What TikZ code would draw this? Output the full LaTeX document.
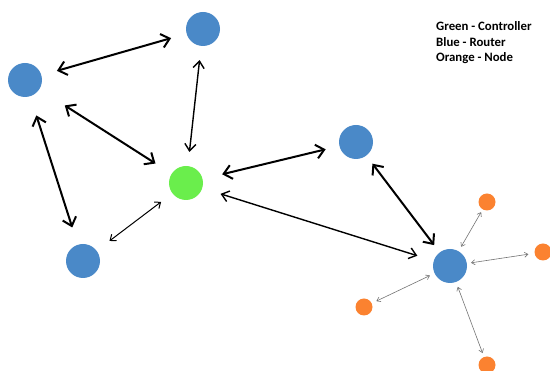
\documentclass[tikz,border=0pt]{standalone}
\usepackage{fontspec}
\setmainfont{Carlito}
\usetikzlibrary{arrows.meta}
\definecolor{router}{HTML}{4A89C8}
\definecolor{ctrl}{HTML}{6AEE4C}
\definecolor{leaf}{HTML}{FB8230}
\tikzset{
  dot/.style={circle, inner sep=0pt, draw=none},
  routerdot/.style={dot, fill=router, minimum size=34pt},
  ctrldot/.style={dot, fill=ctrl, minimum size=34pt},
  leafdot/.style={dot, fill=leaf, minimum size=17pt},
  heavy/.style={line width=2pt, {Straight Barb[length=8pt,width=14pt]}-{Straight Barb[length=8pt,width=14pt]}},
  medium/.style={line width=1.4pt, {Straight Barb[length=7pt,width=11pt]}-{Straight Barb[length=7pt,width=11pt]}},
  light/.style={line width=1pt, {Straight Barb[length=5pt,width=8pt]}-{Straight Barb[length=5pt,width=8pt]}},
  faint/.style={line width=0.6pt, draw=black!55, {Straight Barb[length=3.5pt,width=5pt]}-{Straight Barb[length=3.5pt,width=5pt]}},
  legendline/.style={anchor=base west, inner sep=0pt, font=\bfseries\fontsize{12.8}{15.5}\selectfont},
}
\begin{document}
\begin{tikzpicture}[x=1pt,y=-1pt]
\useasboundingbox (0,0) rectangle (550,371);

% routers, controller and end nodes
\node[routerdot] (rtop)   at (203,29)  {};
\node[routerdot] (rleft)  at (25,80)   {};
\node[ctrldot]   (ctrl)   at (186,183) {};
\node[routerdot] (rbl)    at (83,261)  {};
\node[routerdot] (rmid)   at (356,142) {};
\node[routerdot] (rbr)    at (450,266) {};
\node[leafdot]   (n1)     at (487,202) {};
\node[leafdot]   (n2)     at (543,252) {};
\node[leafdot]   (n3)     at (364,307) {};
\node[leafdot]   (n4)     at (487,365) {};

% links between routers and controller
\draw[heavy, shorten <=16pt, shorten >=16pt] (rleft) -- (rtop);
\draw[medium, shorten <=14pt, shorten >=14pt] (rtop) -- (ctrl);
\draw[heavy, shorten <=30pt, shorten >=19pt] (rleft) -- (ctrl);
\draw[heavy, shorten <=20pt, shorten >=18pt] (rleft) -- (rbl);
\draw[light, shorten <=14pt, shorten >=16pt] (ctrl) -- (rbl);
\draw[heavy, shorten <=20pt, shorten >=14pt] (ctrl) -- (rmid);
\draw[medium, shorten <=19pt, shorten >=17pt] (ctrl) -- (rbr);
\draw[heavy, shorten <=10pt, shorten >=9pt] (rmid) -- (rbr);

% links from router to end nodes
\draw[faint, shorten <=5pt, shorten >=3pt] (rbr) -- (n1);
\draw[faint, shorten <=4pt, shorten >=6pt] (rbr) -- (n2);
\draw[faint, shorten <=5pt, shorten >=5pt] (rbr) -- (n3);
\draw[faint, shorten <=5pt, shorten >=4pt] (rbr) -- (n4);

% legend
\node[legendline] (lgreen)  at (436,31)   {Green - Controller};
\node[legendline] (lblue)   at (436,46.5) {Blue - Router};
\node[legendline] (lorange) at (436,62)   {Orange - Node};
\end{tikzpicture}
\end{document}
